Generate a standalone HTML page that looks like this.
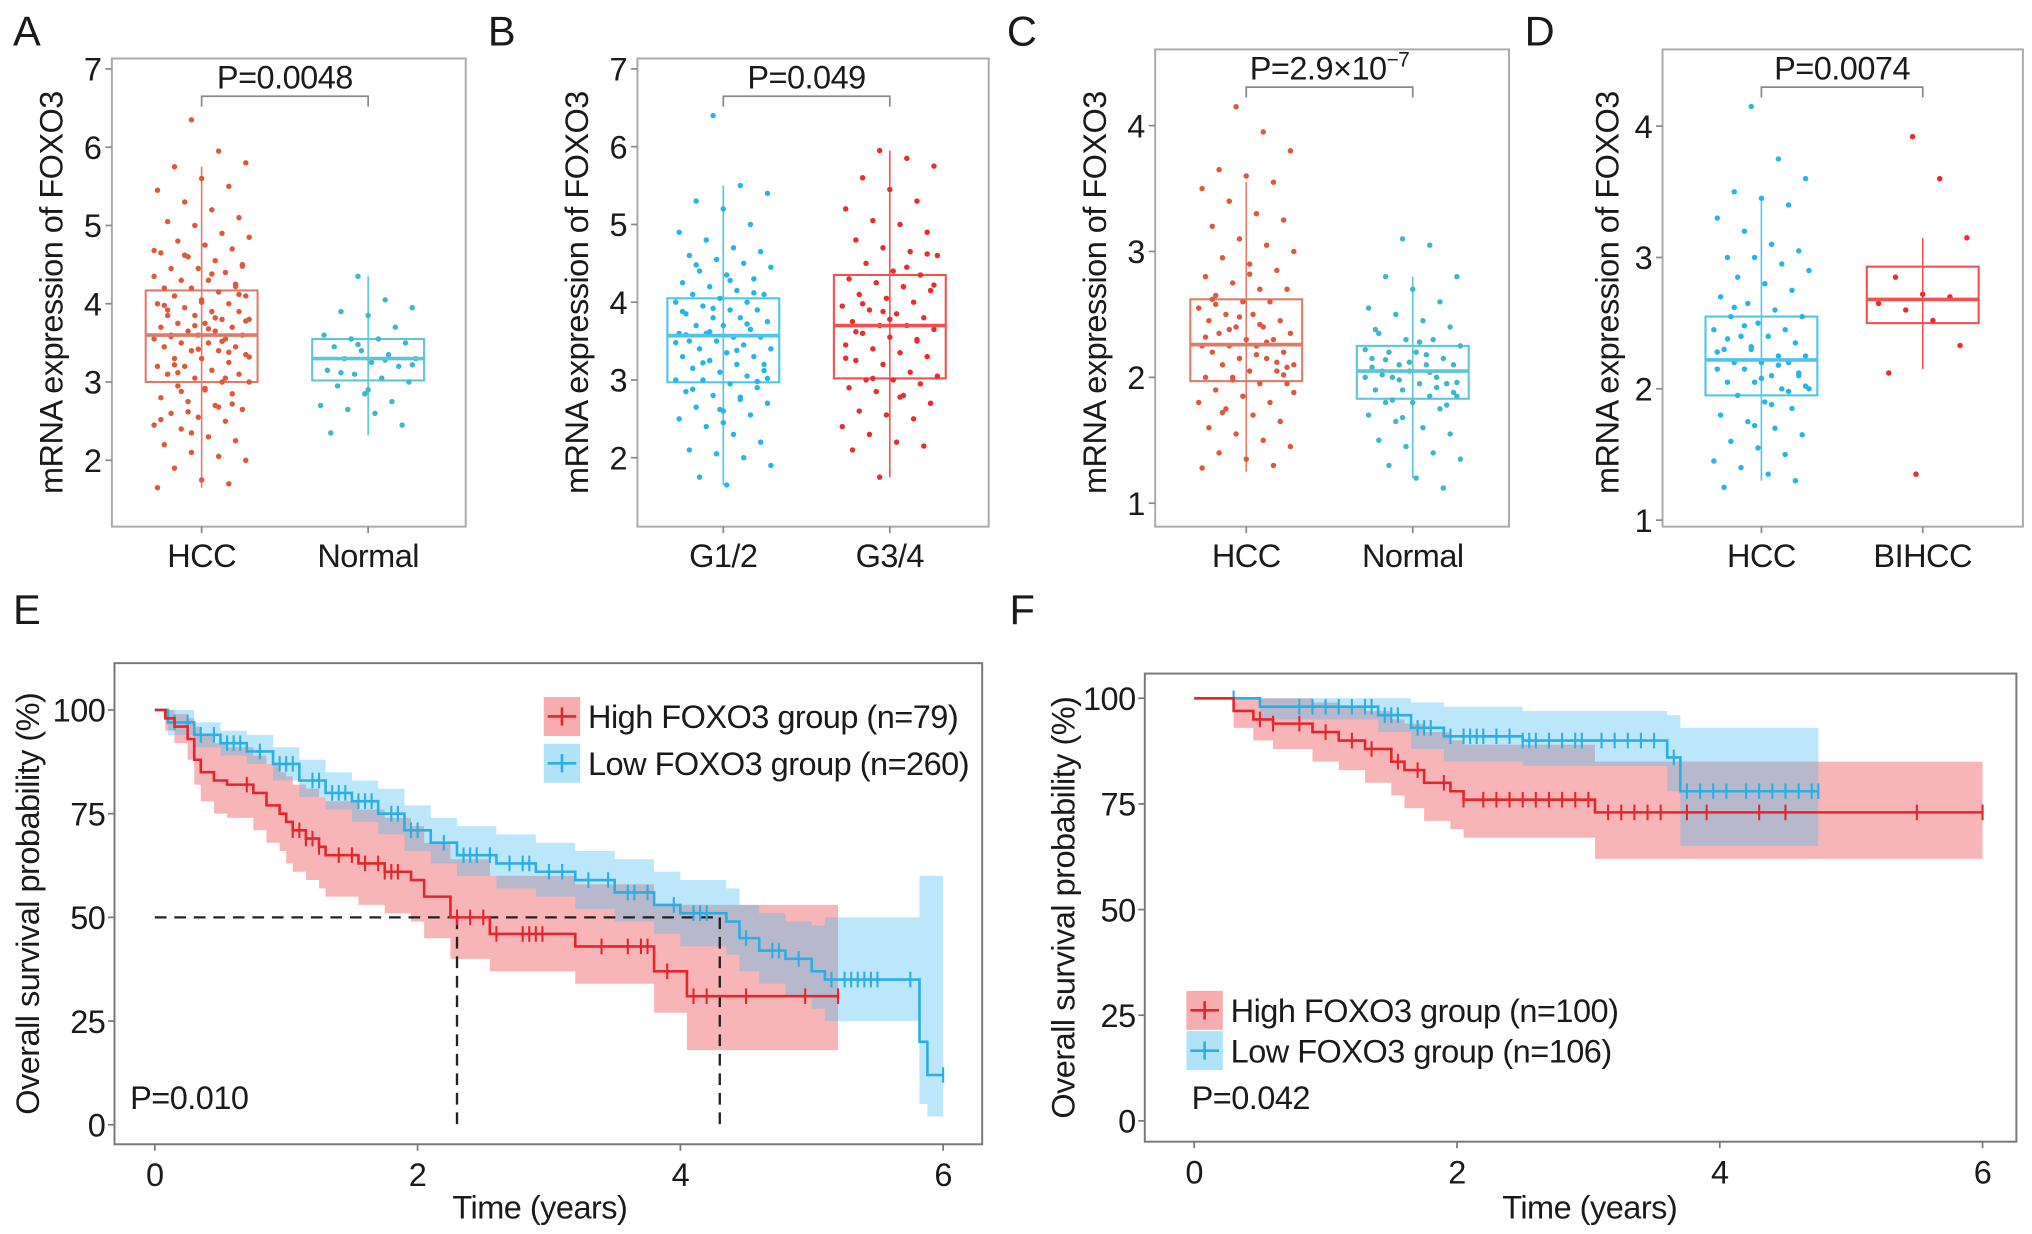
<!DOCTYPE html>
<html><head><meta charset="utf-8">
<style>
html,body{margin:0;padding:0;background:#fff;}
svg{display:block;font-family:"Liberation Sans",Arial,sans-serif;letter-spacing:-0.4px;}
</style></head>
<body>
<svg id="fig" width="2032" height="1234" viewBox="0 0 1562 949" preserveAspectRatio="none" xmlns="http://www.w3.org/2000/svg"></svg>
<script>
// ---------- Data: box/scatter panels ----------
const aCategories = ["HCC","Normal"];
const aHCC = [6.35,5.95,5.8,5.75,5.6,5.5,5.45,5.3,5.2,5.1,5.05,5.0,4.9,4.85,4.8,4.75,4.7,4.65,4.6,4.55,4.5,4.45,4.45,4.4,4.35,4.3,4.3,4.25,4.2,4.2,4.15,4.1,4.1,4.05,4.0,4.0,3.95,3.9,3.9,3.85,3.85,3.8,3.8,3.75,3.75,3.7,3.7,3.65,3.65,3.6,3.6,3.6,3.55,3.55,3.5,3.5,3.45,3.45,3.4,3.4,3.35,3.3,3.3,3.25,3.2,3.2,3.15,3.1,3.1,3.05,3.0,3.0,2.95,2.9,2.85,2.8,2.75,2.7,2.65,2.6,2.55,2.5,2.45,2.4,2.3,2.25,2.2,2.1,2.05,2.0,1.9,1.75,1.7,1.65,4.62,4.38,4.12,3.92,3.72,3.52,3.32,3.12,2.92,2.72,2.52,2.62,3.82,4.48,3.58,3.42,3.05,4.68,2.88,3.68,4.22,3.98,2.35,2.68,3.78,3.22,4.02,3.38];
const aNormal = [4.35,4.05,3.95,3.9,3.85,3.7,3.6,3.55,3.55,3.5,3.45,3.4,3.35,3.3,3.3,3.25,3.2,3.15,3.1,3.05,3.0,2.95,2.85,2.75,2.7,2.65,2.6,2.45,2.35,3.48,3.28,3.22,3.12,2.9];
const aStats = [[1.65,3.0,3.6,4.17,5.75],[2.32,3.02,3.3,3.55,4.35]];
const bCategories = ["G1/2","G3/4"];
const bG12 = [6.4,5.5,5.4,5.3,5.2,5.0,4.9,4.8,4.7,4.65,4.6,4.55,4.5,4.45,4.4,4.35,4.3,4.25,4.2,4.15,4.1,4.1,4.05,4.0,4.0,3.95,3.9,3.9,3.85,3.8,3.8,3.75,3.7,3.7,3.65,3.6,3.6,3.55,3.55,3.5,3.5,3.45,3.4,3.4,3.35,3.3,3.3,3.25,3.2,3.2,3.15,3.1,3.05,3.0,3.0,2.95,2.9,2.85,2.8,2.75,2.7,2.65,2.6,2.55,2.5,2.4,2.3,2.2,2.1,2.05,2.0,1.9,1.75,1.65,4.12,3.88,3.62,3.38,3.12,2.88,2.62,3.72,3.48,3.22,4.28,2.98,3.58,3.92,2.78,3.02,4.48,2.45];
const bG34 = [5.95,5.85,5.75,5.6,5.45,5.3,5.2,5.05,5.0,4.9,4.8,4.7,4.65,4.6,4.5,4.4,4.35,4.3,4.25,4.2,4.15,4.1,4.05,4.0,3.95,3.9,3.85,3.8,3.75,3.7,3.7,3.65,3.6,3.55,3.5,3.45,3.4,3.35,3.3,3.25,3.2,3.1,3.05,3.0,3.0,2.95,2.9,2.85,2.8,2.7,2.6,2.55,2.5,2.4,2.3,2.2,2.15,2.1,1.75,4.45,4.22,3.98,3.78,3.52,3.28,3.02,2.78,4.62,3.62,3.88];
const bStats = [[1.65,2.97,3.57,4.05,5.5],[1.75,3.02,3.7,4.35,5.95]];
const cCategories = ["HCC","Normal"];
const cHCC = [4.15,3.95,3.8,3.65,3.6,3.55,3.5,3.4,3.3,3.25,3.2,3.1,3.05,3.0,2.95,2.9,2.85,2.8,2.75,2.7,2.7,2.65,2.6,2.6,2.55,2.5,2.5,2.45,2.45,2.4,2.4,2.35,2.35,2.3,2.3,2.25,2.25,2.25,2.2,2.2,2.15,2.15,2.1,2.1,2.05,2.05,2.0,2.0,1.95,1.95,1.9,1.85,1.8,1.8,1.75,1.7,1.65,1.6,1.55,1.5,1.45,1.4,1.35,1.3,1.28,2.38,2.18,2.02,2.62,2.48,2.28,1.88,1.72,2.82,2.12,2.32,1.98,2.42,2.08,2.58];
const cNormal = [3.1,3.05,2.8,2.8,2.7,2.6,2.55,2.5,2.45,2.4,2.35,2.3,2.3,2.25,2.2,2.2,2.15,2.15,2.1,2.1,2.1,2.05,2.05,2.0,2.0,2.0,1.95,1.95,1.9,1.9,1.85,1.85,1.8,1.8,1.75,1.7,1.65,1.6,1.55,1.5,1.45,1.4,1.35,1.3,1.2,1.12,2.08,1.98,2.18,1.88,2.02,2.12,1.92,2.22,1.82,2.28,1.78,2.38,1.68,2.04,1.96,2.14];
const cStats = [[1.25,1.97,2.26,2.62,3.55],[1.2,1.83,2.05,2.25,2.8]];
const dCategories = ["HCC","BIHCC"];
const dHCC = [4.15,3.75,3.6,3.5,3.45,3.4,3.3,3.2,3.1,3.05,3.0,3.0,2.95,2.9,2.85,2.8,2.75,2.7,2.65,2.6,2.55,2.55,2.5,2.45,2.45,2.4,2.4,2.35,2.3,2.3,2.25,2.25,2.2,2.2,2.2,2.15,2.15,2.1,2.1,2.05,2.05,2.0,2.0,1.95,1.9,1.85,1.8,1.75,1.7,1.65,1.6,1.55,1.5,1.45,1.4,1.35,1.3,1.25,2.32,2.18,2.02,2.62,2.08,1.98,2.28,2.48,1.88,2.12,2.38,1.72];
const dBIHCC = [3.92,3.6,3.15,2.85,2.72,2.7,2.65,2.6,2.52,2.33,2.12,1.35];
const dStats = [[1.3,1.95,2.22,2.55,3.45],[2.15,2.5,2.68,2.93,3.15]];

// ---------- Data: KM panels ----------
const eHighT  = [0,0.08,0.15,0.25,0.3,0.35,0.45,0.55,0.75,0.85,0.95,1.0,1.05,1.15,1.25,1.3,1.55,1.75,1.95,2.05,2.25,2.55,3.2,3.8,4.05];
const eHighS  = [100,98,96,93,88,85,83,82,80,77,75,73,71,69,67,65,63,61,59,55,50,46,43,37,31];
const eHighHi = [100,100,99,98,96,94,92,91,89,87,85,84,82,81,79,78,76,74,72,68,64,60,58,53,53];
const eHighLo = [100,95,92,88,82,78,75,74,71,68,66,63,61,59,57,55,53,51,49,45,40,37,34,27,18];
const eHighCens = [0.7,1.05,1.1,1.15,1.2,1.25,1.4,1.5,1.6,1.7,1.75,1.8,1.85,2.3,2.4,2.5,2.6,2.8,2.85,2.9,2.95,3.4,3.6,3.7,3.75,3.9,4.1,4.2,4.5,4.95,5.2];
const eHighEnd = 5.2;
const eLowT  = [0,0.1,0.3,0.5,0.7,0.9,1.1,1.3,1.5,1.7,1.9,2.1,2.3,2.6,2.9,3.2,3.5,3.8,4.0,4.35,4.45,4.6,4.8,5.0,5.1,5.82,5.88];
const eLowS  = [100,97,94,92,90,87,83,80,78,75,71,68,65,63,61,59,56,53,51,49,45,42,40,37,35,20,12];
const eLowHi = [100,100,97,95,94,91,88,85,83,81,77,74,72,70,68,66,64,61,59,57,53,51,49,48,50,60,60];
const eLowLo = [100,94,91,89,87,83,79,76,73,70,66,63,60,57,55,52,49,46,43,41,37,34,31,28,25,5,2];
const eLowCens = [0.15,0.25,0.35,0.45,0.55,0.6,0.65,0.8,0.95,1.0,1.05,1.2,1.25,1.35,1.4,1.45,1.55,1.6,1.65,1.8,1.85,1.95,2.0,2.2,2.35,2.4,2.45,2.55,2.7,2.8,2.85,3.0,3.1,3.3,3.45,3.6,3.65,3.75,3.95,4.1,4.15,4.2,4.5,4.7,4.75,4.9,5.15,5.25,5.3,5.35,5.4,5.45,5.5,5.75,6.0];
const eLowEnd = 6.0;
const eMedians = [2.3,4.3];

const fHighT  = [0,0.3,0.45,0.6,0.9,1.1,1.3,1.5,1.6,1.75,1.95,2.05,3.05];
const fHighS  = [100,97,95,94,92,90,88,85,83,80,78,76,73];
const fHighHi = [100,100,100,100,99,98,97,95,94,92,90,89,85];
const fHighLo = [100,93,90,88,85,83,80,77,74,71,69,67,62];
const fHighCens = [0.5,0.6,0.8,1.0,1.2,1.35,1.55,1.7,1.9,2.05,2.2,2.3,2.4,2.5,2.6,2.7,2.8,2.9,3.0,3.15,3.25,3.35,3.45,3.55,3.75,3.9,4.3,4.5,5.5,6.0];
const fHighEnd = 6.0;
const fLowT  = [0,0.5,1.4,1.65,1.9,2.5,3.6,3.7];
const fLowS  = [100,98,96,93,91,90,86,78];
const fLowHi = [100,100,100,99,98,97,96,93];
const fLowLo = [100,95,92,88,85,84,78,65];
const fLowCens = [0.3,0.8,0.9,1.0,1.1,1.2,1.3,1.35,1.45,1.5,1.55,1.7,1.75,1.8,1.95,2.05,2.1,2.15,2.2,2.3,2.4,2.5,2.55,2.6,2.7,2.8,2.9,2.95,3.1,3.2,3.3,3.4,3.5,3.65,3.75,3.85,3.95,4.05,4.2,4.3,4.4,4.5,4.6,4.7,4.75];
const fLowEnd = 4.75;

const NS = "http://www.w3.org/2000/svg";
const svg = document.getElementById('fig');
function mk(tag, attrs, parent){
  const e = document.createElementNS(NS, tag);
  for (const k in attrs) e.setAttribute(k, attrs[k]);
  (parent||svg).appendChild(e);
  return e;
}
function txt(x,y,s,size,anchor,parent,extra){
  const t = mk('text',Object.assign({x:x,y:y,'font-size':size,'text-anchor':anchor||'middle',fill:'#1a1a1a'},extra||{}),parent);
  t.textContent = s;
  return t;
}

// ---------- Box panel ----------
function boxPanel(cfg){
  const g = mk('g',{});
  
  
  const y = v => cfg.y0 - (v - cfg.v0) * cfg.pxPer;
  const L = txt(cfg.letterX, 35, cfg.letter, 32, 'start', g);
  
  
  const fr = mk('rect',{x:cfg.x0,y:cfg.top,width:cfg.x1-cfg.x0,height:405-cfg.top,fill:'none',stroke:'#aaa','stroke-width':1.5},g);
  
  
  cfg.ticks.forEach(v=>{
    mk('line',{x1:cfg.x0-5,x2:cfg.x0,y1:y(v),y2:y(v),stroke:'#888','stroke-width':1.3},g);
    const t = txt(cfg.x0-8, y(v)+9, String(v), 25, 'end', g);
    
    
  });
  const yl = txt(0,0,'mRNA expression of FOXO3',25,'middle',g,{transform:`translate(${cfg.ylabX},225) rotate(-90)`});
  
  
  cfg.cats.forEach((c,i)=>{
    const cx = cfg.cx[i];
    mk('line',{x1:cx,x2:cx,y1:405,y2:410,stroke:'#888','stroke-width':1.3},g);
    const t = txt(cx, 436, c, 25, 'middle', g);
    
    
    const st = cfg.stats[i], col = cfg.boxCol[i], hw = 43;
    const bg = mk('g',{},g);
    
    
    mk('line',{x1:cx,x2:cx,y1:y(st[0]),y2:y(st[4]),stroke:col,'stroke-width':1.2},bg);
    mk('rect',{x:cx-hw,y:y(st[3]),width:2*hw,height:y(st[1])-y(st[3]),fill:'none',stroke:col,'stroke-width':1.6},bg);
    const vals = cfg.vals[i];
    vals.forEach((v,k)=>{
      const j = (((k*37+11)%29)/28 - 0.5) * 2 * hw * 0.85;
      const d = mk('circle',{cx:cx+j,cy:y(v),r:2.1,fill:cfg.dotCol[i]},bg);
      
      
    });
    mk('line',{x1:cx-hw,x2:cx+hw,y1:y(st[2]),y2:y(st[2]),stroke:col,'stroke-width':2.8},bg);
  });
  const by = cfg.top + 29;
  mk('path',{d:`M${cfg.cx[0]},${by+8}V${by}H${cfg.cx[1]}V${by+8}`,fill:'none',stroke:'#888','stroke-width':1.3},g);
  const p = mk('text',{x:(cfg.cx[0]+cfg.cx[1])/2,y:by-6,'font-size':25,'text-anchor':'middle',fill:'#1a1a1a'},g);
  
  
  p.textContent = cfg.p;
  if (cfg.pSup){
    const s = mk('tspan',{'font-size':16,dy:-10},p); s.textContent = cfg.pSup;
  }
}

const RED_O = '#e0583c', TEAL = '#3fb6cc', CYAN = '#26b4ea', RED = '#ee2b2b';
boxPanel({name:'panel-a',letter:'A',letterX:10,x0:86,x1:358,top:45,y0:354,v0:2,pxPer:60.2,ticks:[2,3,4,5,6,7],ylabX:48,
  cats:aCategories,cx:[155,283],stats:aStats,vals:[aHCC,aNormal],boxCol:['#e07a68','#5cc6d6'],dotCol:[RED_O,TEAL],p:'P=0.0048'});
boxPanel({name:'panel-b',letter:'B',letterX:375,x0:490,x1:760,top:45,y0:352,v0:2,pxPer:59.8,ticks:[2,3,4,5,6,7],ylabX:452,
  cats:bCategories,cx:[556,684],stats:bStats,vals:[bG12,bG34],boxCol:['#4cc4ee','#f05050'],dotCol:[CYAN,RED],p:'P=0.049'});
boxPanel({name:'panel-c',letter:'C',letterX:774,x0:888,x1:1160,top:38,y0:387,v0:1,pxPer:96.8,ticks:[1,2,3,4],ylabX:850,
  cats:cCategories,cx:[958,1086],stats:cStats,vals:[cHCC,cNormal],boxCol:['#e07a68','#5cc6d6'],dotCol:[RED_O,TEAL],p:'P=2.9\u00d710',pSup:'\u22127'});
boxPanel({name:'panel-d',letter:'D',letterX:1172,x0:1278,x1:1555,top:38,y0:400,v0:1,pxPer:101,ticks:[1,2,3,4],ylabX:1244,
  cats:dCategories,cx:[1354,1478],stats:dStats,vals:[dHCC,dBIHCC],boxCol:['#4cc4ee','#f05050'],dotCol:[CYAN,RED],p:'P=0.0074'});

// ---------- KM panel ----------
function stepAt(T,S,t){ let v=S[0]; for(let i=0;i<T.length;i++){ if(T[i]<=t) v=S[i]; } return v; }
function kmPanel(cfg){
  const g = mk('g',{});
  
  
  const X = t => cfg.xa + t*cfg.xPer;
  const Y = s => cfg.y0 - s*cfg.yPer;
  const L = txt(cfg.letterX, 480, cfg.letter, 32, 'start', g);
  
  
  function band(T,Lo,Hi,end,fill,name){
    let d = `M${X(T[0])},${Y(Hi[0])}`;
    for(let i=1;i<T.length;i++) d += `H${X(T[i])}V${Y(Hi[i])}`;
    d += `H${X(end)}V${Y(Lo[Lo.length-1])}`;
    for(let i=T.length-1;i>=1;i--) d += `H${X(T[i])}V${Y(Lo[i-1])}`;
    d += `H${X(T[0])}Z`;
    const p = mk('path',{d:d,fill:fill,stroke:'none'},g);
    
    
  }
  function curve(T,S,end,cens,col,name){
    let d = `M${X(T[0])},${Y(S[0])}`;
    for(let i=1;i<T.length;i++) d += `H${X(T[i])}V${Y(S[i])}`;
    d += `H${X(end)}`;
    const cg = mk('g',{},g);
    
    
    mk('path',{d:d,fill:'none',stroke:col,'stroke-width':2},cg);
    cens.forEach(t=>{
      const yy = Y(stepAt(T,S,t)), xx = X(t);
      const c = mk('path',{d:`M${xx},${yy-6}V${yy+6}`,stroke:col,'stroke-width':1.6},cg);
      
      
    });
  }
  band(cfg.hT,cfg.hLo,cfg.hHi,cfg.hEnd,'rgba(240,90,95,0.45)','ci-band-high');
  band(cfg.lT,cfg.lLo,cfg.lHi,cfg.lEnd,'rgba(80,190,240,0.38)','ci-band-low');
  if (cfg.medians){
    const mg = mk('g',{stroke:'#222','stroke-width':1.8,'stroke-dasharray':'9,6',fill:'none'},g);
    
    
    mk('path',{d:`M${X(0)},${Y(50)}H${X(cfg.medians[1])}`},mg);
    cfg.medians.forEach(m=>mk('path',{d:`M${X(m)},${Y(50)}V${Y(0)}`},mg));
  }
  curve(cfg.lT,cfg.lS,cfg.lEnd,cfg.lC,'#2aaee3','km-curve-low');
  curve(cfg.hT,cfg.hS,cfg.hEnd,cfg.hC,'#e3262c','km-curve-high');
  const fr = mk('rect',{x:cfg.x0,y:cfg.top,width:cfg.x1-cfg.x0,height:cfg.bot-cfg.top,fill:'none',stroke:'#777','stroke-width':1.5},g);
  
  
  [0,25,50,75,100].forEach(v=>{
    mk('line',{x1:cfg.x0-5,x2:cfg.x0,y1:Y(v),y2:Y(v),stroke:'#777','stroke-width':1.3},g);
    const t = txt(cfg.x0-7, Y(v)+9, String(v), 25, 'end', g);
    
    
  });
  [0,2,4,6].forEach(v=>{
    mk('line',{x1:X(v),x2:X(v),y1:cfg.bot,y2:cfg.bot+5,stroke:'#777','stroke-width':1.3},g);
    const t = txt(X(v), cfg.bot+32, String(v), 25, 'middle', g);
    
    
  });
  const xt = txt(cfg.xlabX, 937, 'Time (years)', 25, 'middle', g);
  
  
  const yt = txt(0,0,'Overall survival probability (%)',25,'middle',g,{transform:`translate(${cfg.ylabX},${(cfg.top+cfg.bot)/2}) rotate(-90)`});
  
  
  const pv = txt(cfg.pX, 853, cfg.p, 25, 'start', g);
  
  
  [[cfg.legY[0],'rgba(240,90,95,0.5)','#e3262c',cfg.legText[0],'legend-entry-high'],
   [cfg.legY[1],'rgba(80,190,240,0.45)','#2aaee3',cfg.legText[1],'legend-entry-low']].forEach(e=>{
    const lg = mk('g',{},g);
    
    
    mk('rect',{x:cfg.legX,y:e[0]-15,width:28,height:30,fill:e[1]},lg);
    mk('path',{d:`M${cfg.legX+3},${e[0]}H${cfg.legX+25}M${cfg.legX+14},${e[0]-7}V${e[0]+7}`,stroke:e[2],'stroke-width':2},lg);
    txt(cfg.legX+34, e[0]+9, e[3], 25, 'start', lg);
  });
}

kmPanel({name:'panel-e',letter:'E',letterX:10,x0:88,x1:755,top:510,bot:880,xa:119,xPer:101,y0:865,yPer:3.19,
  hT:eHighT,hS:eHighS,hHi:eHighHi,hLo:eHighLo,hC:eHighCens,hEnd:eHighEnd,
  lT:eLowT,lS:eLowS,lHi:eLowHi,lLo:eLowLo,lC:eLowCens,lEnd:eLowEnd,medians:eMedians,
  xlabX:415,ylabX:30,pX:100,p:'P=0.010',legX:418,legY:[551,587],legText:['High FOXO3 group (n=79)','Low FOXO3 group (n=260)']});
kmPanel({name:'panel-f',letter:'F',letterX:776,x0:880,x1:1550,top:518,bot:878,xa:918,xPer:101,y0:862,yPer:3.25,
  hT:fHighT,hS:fHighS,hHi:fHighHi,hLo:fHighLo,hC:fHighCens,hEnd:fHighEnd,
  lT:fLowT,lS:fLowS,lHi:fLowHi,lLo:fLowLo,lC:fLowCens,lEnd:fLowEnd,medians:null,
  xlabX:1222,ylabX:826,pX:916,p:'P=0.042',legX:912,legY:[777,808],legText:['High FOXO3 group (n=100)','Low FOXO3 group (n=106)']});
</script>
</body></html>
